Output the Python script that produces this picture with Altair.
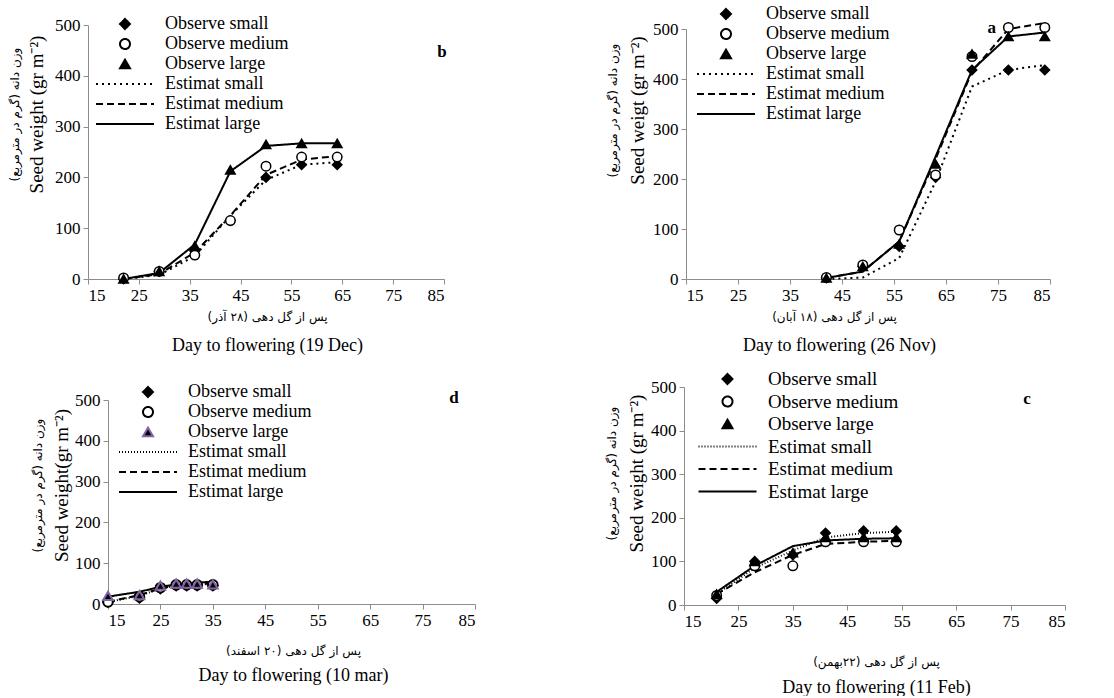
import altair as alt
import pandas as pd

SERIF = "Liberation Serif"
ARAB = "DejaVu Sans"
RLM = "\u200f"
SERIES = ["Observe small", "Observe medium", "Observe large",
          "Estimat small", "Estimat medium", "Estimat large"]

# ---- panel b (19 Dec) ----
b_days = [22, 29, 36, 43, 50, 57, 64]
b_obs_small = [0, 15, 55, 115, 200, 225, 225]
b_obs_medium = [2, 15, 47, 115, 222, 240, 240]
b_obs_large = [0, 15, 65, 215, 265, 267, 267]
b_est_small = [0, 8, 45, 125, 195, 225, 230]
b_est_medium = [0, 10, 52, 125, 205, 235, 242]
b_est_large = [0, 12, 68, 212, 262, 267, 267]

# ---- panel a (26 Nov) ----
a_days = [42, 49, 56, 63, 70, 77, 84]
a_obs_small = [2, 25, 65, 203, 418, 418, 418]
a_obs_medium = [3, 28, 98, 208, 445, 503, 503]
a_obs_large = [2, 25, 70, 230, 450, 485, 485]
a_est_small = [0, 3, 42, 195, 385, 418, 428]
a_est_medium = [2, 15, 75, 240, 415, 500, 512]
a_est_large = [2, 15, 75, 245, 418, 485, 493]

# ---- panel d (10 mar) ----
d_days = [15, 21, 25, 28, 30, 32, 35]
d_obs_small = [5, 15, 38, 45, 45, 45, 45]
d_obs_medium = [5, 18, 40, 47, 47, 47, 47]
d_obs_large = [20, 22, 45, 50, 50, 50, 48]
d_est_small = [5, 20, 38, 45, 47, 48, 49]
d_est_medium = [5, 22, 38, 46, 48, 49, 50]
d_est_large = [18, 30, 42, 48, 50, 52, 55]

# ---- panel c (11 Feb) ----
c_days = [21, 28, 35, 41, 48, 54]
c_obs_small = [15, 100, 115, 165, 170, 170]
c_obs_medium = [22, 90, 90, 145, 145, 145]
c_obs_large = [25, 100, 120, 155, 155, 155]
c_est_small = [25, 85, 125, 155, 165, 168]
c_est_medium = [25, 75, 115, 140, 145, 147]
c_est_large = [30, 90, 135, 148, 152, 153]

X_TICKS = [15, 25, 35, 45, 55, 65, 75, 85]
Y_TICKS = [0, 100, 200, 300, 400, 500]
LINE = "M-5.8,0H5.8"
GREY = "#8c8c8c"
IND = dict(shape="independent", fill="independent", stroke="independent", strokeDash="independent")


def frame(days, series_lists, names):
    rows = []
    for name, vals in zip(names, series_lists):
        for d, v in zip(days, vals):
            rows.append({"day": d, "w": v, "series": name})
    return pd.DataFrame(rows)


def panel(days, obs, est, c):
    obs_df = frame(days, obs, SERIES[:3])
    est_df = frame(days, est, SERIES[3:])
    ox, oy = c["ox"], c["oy"]
    W, H = c["w"] + ox, c["h"] + oy
    xs = alt.Scale(domain=[15, 85], nice=False, zero=False, range=[ox, W])
    ys = alt.Scale(domain=[0, 500], nice=False, range=[H, oy])
    leg = alt.Legend(orient="none", legendX=c["lx"] + ox, legendY=c["ly"] + oy, title=None,
                     labelFont=SERIF, labelFontSize=c["lfs"], labelColor="black",
                     labelOffset=31, symbolSize=100, symbolStrokeWidth=2,
                     rowPadding=c["rp"], padding=0, symbolOpacity=1, labelLimit=400)
    shape_s = alt.Scale(domain=SERIES, range=["diamond", "circle", "triangle-up", LINE, LINE, LINE])
    fill_s = alt.Scale(domain=SERIES, range=["black", "white", c["tfill"], "black", "black", "black"])
    stroke_s = alt.Scale(domain=SERIES, range=["black", "black", c["tstroke"], "black", "black", "black"])
    dash_s = alt.Scale(domain=SERIES, range=[[1, 0], [1, 0], [1, 0], c["dot"], [7, 4], [1, 0]])

    ax_x1 = alt.Axis(orient="bottom", values=X_TICKS, grid=False, labelFont=SERIF,
                     labelFontSize=17, labelColor="black", labelPadding=3,
                     tickSize=5, tickColor=GREY, domainColor=GREY,
                     title=c["px"], titleFont=ARAB, titleFontSize=12,
                     titleFontWeight="normal", titleColor="black",
                     titleX=c["pxX"] + ox, titleY=c["pxY"])
    ax_y1 = alt.Axis(orient="left", values=Y_TICKS, grid=False, labelFont=SERIF,
                     labelFontSize=17, labelColor="black", labelPadding=3,
                     tickSize=5, tickColor=GREY, domainColor=GREY, offset=-ox,
                     title=c["ey"], titleFont=SERIF, titleFontSize=19,
                     titleFontWeight="normal", titleColor="black",
                     titleX=c["eyX"], titleY=c["eyY"] + oy)
    ax_x2 = alt.Axis(orient="bottom", labels=False, ticks=False, domain=False, grid=False,
                     title=c["ex"], titleFont=SERIF, titleFontSize=18,
                     titleFontWeight="normal", titleColor="black",
                     titleX=c["exX"] + ox, titleY=c["exY"])
    ax_y2 = alt.Axis(orient="left", labels=False, ticks=False, domain=False, grid=False,
                     offset=-ox,
                     title=c["py"], titleFont=ARAB, titleFontSize=12,
                     titleFontWeight="normal", titleColor="black",
                     titleX=c["pyX"], titleY=c["pyY"] + oy)

    lines = alt.Chart(est_df).mark_line(strokeWidth=2).encode(
        x=alt.X("day:Q", scale=xs, axis=ax_x1),
        y=alt.Y("w:Q", scale=ys, axis=ax_y1),
        strokeDash=alt.StrokeDash("series:N", scale=dash_s, legend=leg),
        stroke=alt.Stroke("series:N", scale=stroke_s, legend=leg),
    )
    points = alt.Chart(obs_df).mark_point(filled=True, size=90, strokeWidth=c["psw"], opacity=1).encode(
        x=alt.X("day:Q", scale=xs, axis=ax_x2),
        y=alt.Y("w:Q", scale=ys, axis=ax_y2),
        shape=alt.Shape("series:N", scale=shape_s, legend=leg),
        fill=alt.Fill("series:N", scale=fill_s, legend=leg),
        stroke=alt.Stroke("series:N", scale=stroke_s, legend=leg),
    )
    label = alt.Chart(pd.DataFrame({"day": [c["tx"]], "w": [c["ty"]], "t": [c["letter"]]})).mark_text(
        font=SERIF, fontSize=17, fontWeight="bold", align="center", baseline="middle", color="black"
    ).encode(
        x=alt.X("day:Q", scale=xs, axis=None),
        y=alt.Y("w:Q", scale=ys, axis=None),
        text="t:N",
    )
    return alt.layer(lines, points, label).resolve_axis(x="independent", y="independent").properties(
        width=W, height=H)


PY = "وزن دانه (گرم در مترمربع)" + RLM

# ox/oy: where the plot area starts inside its grid cell
cfg_b = dict(w=356, h=254, ox=0, oy=0, lx=28, ly=-10, lfs=18, rp=2, tfill="black", tstroke="black",
             psw=1.5, dot=[2, 4], letter="b", tx=84.6, ty=447,
             px="پس از گل دهی (۲۸ آذر)" + RLM, pxX=179, pxY=32,
             ex="Day to flowering (19 Dec)", exX=179, exY=57,
             ey="Seed weight (gr m⁻²)", eyX=-42, eyY=89,
             py=PY, pyX=-67, pyY=89)
cfg_a = dict(w=364, h=250, ox=2, oy=4, lx=31, ly=-24, lfs=18, rp=2, tfill="black", tstroke="black",
             psw=1.5, dot=[2, 4], letter="a", tx=73.8, ty=502,
             px="پس از گل دهی (۱۸ آبان)" + RLM, pxX=148, pxY=32,
             ex="Day to flowering (26 Nov)", exX=153, exY=57,
             ey="Seed weigt (gr m⁻²)", eyX=-39, eyY=81,
             py=PY, pyX=-67, pyY=81)
cfg_d = dict(w=367, h=204, ox=20, oy=13, lx=31, ly=-17, lfs=18, rp=2, tfill="black", tstroke="#8064a2",
             psw=2, dot=[1, 2], letter="d", tx=81, ty=505,
             px="پس از گل دهی (۲۰ اسفند)" + RLM, pxX=185, pxY=41,
             ex="Day to flowering (10 mar)", exX=185, exY=62,
             ey="Seed weight(gr m⁻²)", eyX=-37, eyY=85,
             py=PY, pyX=-64, pyY=85)
cfg_c = dict(w=381, h=218, ox=0, oy=0, lx=34, ly=-17.5, lfs=19, rp=2.5, tfill="black", tstroke="black",
             psw=1.5, dot=[1, 2], letter="c", tx=78, ty=472.5,
             px="پس از گل دهی (۲۲بهمن)" + RLM, pxX=192, pxY=51,
             ex="Day to flowering (11 Feb)", exX=192, exY=73,
             ey="Seed weight (gr m⁻²)", eyX=-38, eyY=86,
             py=PY, pyX=-66, pyY=86)

pB = panel(b_days, [b_obs_small, b_obs_medium, b_obs_large], [b_est_small, b_est_medium, b_est_large], cfg_b)
pA = panel(a_days, [a_obs_small, a_obs_medium, a_obs_large], [a_est_small, a_est_medium, a_est_large], cfg_a)
pD = panel(d_days, [d_obs_small, d_obs_medium, d_obs_large], [d_est_small, d_est_medium, d_est_large], cfg_d)
pC = panel(c_days, [c_obs_small, c_obs_medium, c_obs_large], [c_est_small, c_est_medium, c_est_large], cfg_c)

chart = alt.concat(pB, pA, pD, pC, columns=2, spacing={"row": 108, "column": 209}, bounds="flush") \
    .resolve_scale(**IND).resolve_legend(**IND) \
    .properties(padding={"left": 7, "top": 5, "right": 0, "bottom": 0}, background="white") \
    .configure_view(stroke=None) \
    .configure_axis(labelFont=SERIF) \
    .configure_text(font=SERIF)

chart.save("out.html", embed_options={"renderer": "svg", "actions": False})
